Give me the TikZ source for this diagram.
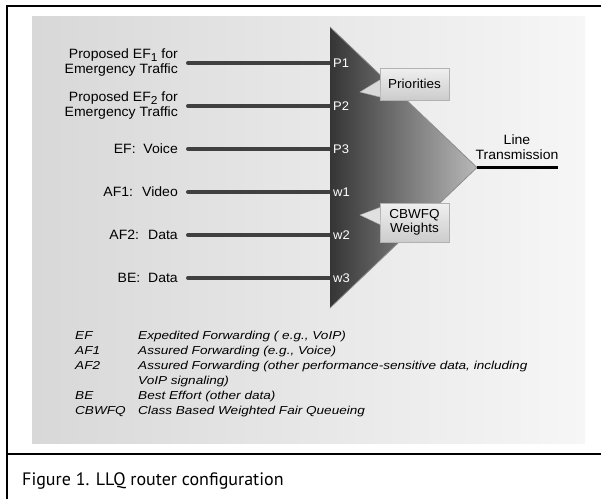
\documentclass[tikz,border=0pt]{standalone}
\usepackage{fontspec}
\setmainfont{Liberation Sans}
\newfontfamily\labelfont[FakeStretch=1.04]{Liberation Sans}
\newfontfamily\legendfont[FakeStretch=1.18]{Liberation Sans}
\newfontfamily\captionfont{PT Sans}
\usetikzlibrary{positioning}
\definecolor{paneldark}{HTML}{D8D8D8}
\definecolor{panellight}{HTML}{F6F6F6}
\definecolor{tridark}{HTML}{353535}
\definecolor{trilight}{HTML}{B8B8B8}
\definecolor{feedgray}{HTML}{404040}
\newcommand{\lowsub}[1]{\raisebox{-0.35ex}{\fontsize{11.5}{11.5}\selectfont #1}}
\begin{document}
\begin{tikzpicture}[x=1pt,y=-1pt,
  frame/.style={line width=2.2pt,black},
  inlabel/.style={anchor=east,align=right,inner xsep=10pt,inner ysep=0pt,
    font=\labelfont\fontsize{13.5}{15}\selectfont},
  feed/.style={line width=4pt,feedgray,line cap=round},
  portlabel/.style={anchor=west,inner xsep=3pt,text=white,
    font=\labelfont\fontsize{12.5}{13}\selectfont},
  callbox/.style={draw=black!30,top color=black!6,bottom color=black!20,
    minimum width=69pt,align=center,inner sep=2pt,
    font=\labelfont\fontsize{13}{14}\selectfont},
  legend/.style={anchor=north west,align=left,inner sep=0pt,
    font=\legendfont\itshape\fontsize{11.5}{15}\selectfont}]
  \useasboundingbox (0,0) rectangle (601,499);

  % background panel
  \shade[left color=paneldark,right color=panellight] (32,16) rectangle (585,443);

  % frame round the figure and its caption
  \draw[frame] (7,499) -- (7,6) -- (601,6);
  \draw[frame] (7,454) -- (601,454);

  % the queue triangle
  \coordinate (ttop) at (330,27);
  \coordinate (tbot) at (330,308);
  \coordinate (apex) at (477,167.5);
  \coordinate (lineend) at (558,167.5);

  % input classes
  \node[inlabel] (in1) at (188,63) {Proposed EF\lowsub{1} for\\Emergency Traffic};
  \node[inlabel] (in2) at (188,106) {Proposed EF\lowsub{2} for\\Emergency Traffic};
  \node[inlabel] (in3) at (188,149) {EF:~ Voice};
  \node[inlabel] (in4) at (188,192) {AF1:~ Video};
  \node[inlabel] (in5) at (188,235) {AF2:~ Data};
  \node[inlabel] (in6) at (188,278) {BE:~ Data};

  \foreach \n/\y in {p1/63,p2/106,p3/149,w1/192,w2/235,w3/278}{
    \coordinate (\n) at (330,\y);
  }
  \foreach \i/\n in {1/p1,2/p2,3/p3,4/w1,5/w2,6/w3}{
    \draw[feed] (in\i.east) -- (\n);
  }

  \shade[left color=tridark,right color=trilight] (ttop) -- (apex) -- (tbot) -- cycle;
  \draw[black!45,line width=0.8pt] (ttop) -- (apex) -- (tbot);

  \foreach \n/\txt in {p1/P1,p2/P2,p3/P3,w1/w1,w2/w2,w3/w3}{
    \node[portlabel] (lbl\n) at (\n) {\txt};
  }

  % output
  \draw[line width=2.2pt] (apex) -- (lineend);
  \node[align=center,anchor=south,inner sep=1pt,
    font=\labelfont\fontsize{13.5}{15}\selectfont] (ltx) at (517,161) {Line\\Transmission};

  % callouts
  \node[callbox,minimum height=32pt] (prio) at (414.5,84) {Priorities};
  \coordinate (priotip) at (360,92);
  \fill[black!15] ([yshift=4pt]prio.west) -- (priotip) -- ([yshift=-13pt,xshift=0.6pt]prio.west) -- cycle;
  \draw[black!30] ([yshift=4pt]prio.west) -- (priotip) -- ([yshift=-13pt]prio.west);

  \node[callbox,minimum height=39pt] (wts) at (414.5,222.5) {CBWFQ\\Weights};
  \coordinate (wtstip) at (360,215);
  \fill[black!12] ([yshift=15pt]wts.west) -- (wtstip) -- ([yshift=-2pt,xshift=0.6pt]wts.west) -- cycle;
  \draw[black!30] ([yshift=15pt]wts.west) -- (wtstip) -- ([yshift=-2pt]wts.west);

  % legend
  \node[legend] (abbr) at (75,328.5) {\strut EF\\AF1\\AF2\\\strut\\BE\\CBWFQ};
  \node[legend] (meaning) at (138,328.5) {\strut Expedited Forwarding ( e.g., VoIP)\\
    Assured Forwarding (e.g., Voice)\\
    Assured Forwarding (other performance-sensitive data, including\\
    VoIP signaling)\\
    Best Effort (other data)\\
    Class Based Weighted Fair Queueing};

  % caption
  \node[anchor=base west,inner sep=0pt,font=\captionfont\fontsize{18}{20}\selectfont]
    (cap) at (22,485) {Figure 1. LLQ router configuration};
\end{tikzpicture}
\end{document}
